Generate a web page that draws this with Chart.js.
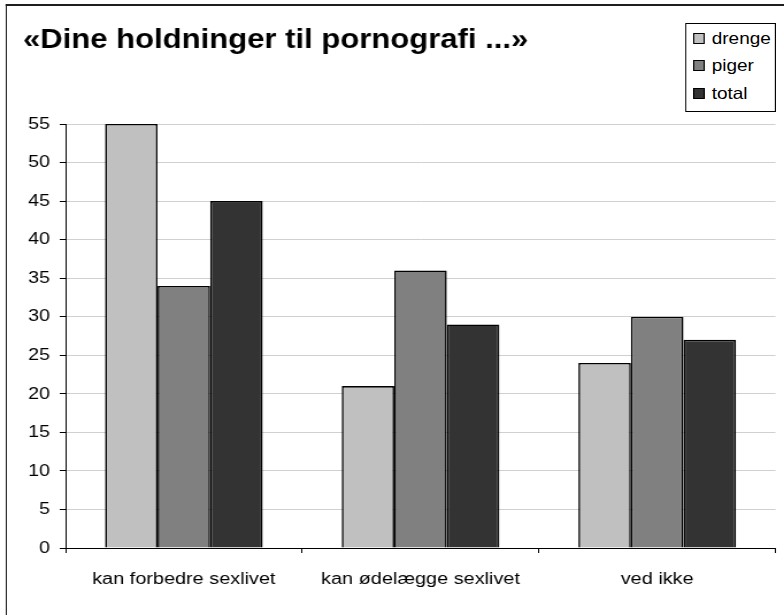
<!DOCTYPE html>
<html><head><meta charset="utf-8">
<script src="https://cdn.jsdelivr.net/npm/chart.js@4"></script>
<style>
html,body{margin:0;padding:0;background:#fff;overflow:hidden;width:784px;height:615px;}
#wrap{position:absolute;left:0;top:0;width:682px;height:615px;transform:scaleX(1.1496);transform-origin:0 0;}
#frame{position:absolute;left:4.6px;top:3.5px;width:800px;height:800px;border-left:1.75px solid #1e1e1e;border-top:2px solid #1e1e1e;box-sizing:border-box;}
#c{position:absolute;left:0;top:0;}
#legend{position:absolute;left:596px;top:23px;width:79px;height:89px;border:1px solid #000;box-sizing:border-box;background:#fff;font-family:"Liberation Sans",Arial,sans-serif;font-size:16.5px;color:#000;}
.item{position:absolute;left:5.6px;height:20px;display:flex;align-items:center;white-space:nowrap;}
.sw{width:10px;height:11px;border:1.5px solid #000;box-sizing:border-box;margin-right:6.5px;flex:none;}
</style></head>
<body>
<div id="wrap">
  <div id="frame"></div>
  <canvas id="c" width="682" height="615"></canvas>
  <div id="legend"></div>
</div>
<script>
const titleText = "«Dine holdninger til pornografi ...»";
const categories = ["kan forbedre sexlivet", "kan ødelægge sexlivet", "ved ikke"];
const seriesNames = ["drenge", "piger", "total"];
const drenge = [55, 21, 24];
const piger = [34, 36, 30];
const total = [45, 29, 27];
const seriesColors = ["#c0c0c0", "#808080", "#333333"];
const yMin = 0, yMax = 55, yStep = 5;

const seriesValues = [drenge, piger, total];
const FONT = '"Liberation Sans", Arial, sans-serif';

const datasets = seriesNames.map((name, i) => ({
  label: name,
  data: seriesValues[i],
  backgroundColor: seriesColors[i],
  borderColor: "#000",
  borderWidth: 1.6,
  barPercentage: 1,
  categoryPercentage: 0.666
}));

const chart = new Chart(document.getElementById("c"), {
  type: "bar",
  data: { labels: categories, datasets },
  options: {
    responsive: false,
    animation: false,
    devicePixelRatio: 1,
    layout: { padding: { left: 20, right: 7.4, top: 0, bottom: 0 } },
    plugins: {
      legend: { display: false },
      tooltip: { enabled: false },
      title: {
        display: true, text: titleText, align: "start", color: "#000",
        font: { family: FONT, size: 27, weight: "bold" },
        padding: { top: 24, bottom: 67.6 }
      }
    },
    scales: {
      x: {
        grid: { display: true, drawOnChartArea: false, offset: true, tickLength: 5, tickColor: "#000", color: "#000" },
        border: { color: "#000", width: 1 },
        ticks: { color: "#000", font: { family: FONT, size: 17.3 }, padding: 16, maxRotation: 0 },
        afterFit(s) { s.height = 67; }
      },
      y: {
        min: yMin, max: yMax,
        ticks: { stepSize: yStep, color: "#000", font: { family: FONT, size: 17 }, padding: 8.5 },
        grid: { color: "#d0d0d0", tickColor: "#000", tickLength: 5 },
        border: { color: "#000", width: 1 },
        afterFit(s) { s.width = 37; }
      }
    }
  }
});

// HTML legend built from the chart's datasets
const legendEl = document.getElementById("legend");
const itemTops = [4.3, 31.5, 59.8];
chart.data.datasets.forEach((ds, i) => {
  const it = document.createElement("div");
  it.className = "item";
  it.style.top = itemTops[i] + "px";
  const sw = document.createElement("span");
  sw.className = "sw";
  sw.style.background = ds.backgroundColor;
  const tx = document.createElement("span");
  tx.textContent = ds.label;
  it.appendChild(sw); it.appendChild(tx);
  legendEl.appendChild(it);
});
</script>
</body></html>
